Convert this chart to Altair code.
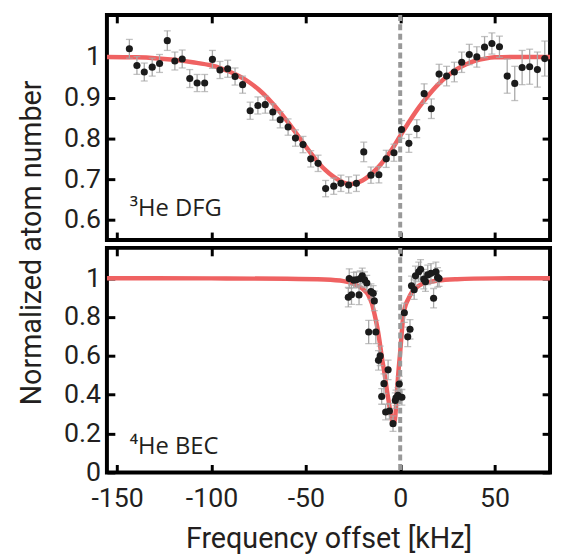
import altair as alt
import pandas as pd

# ---------------- data ----------------
x_ticks = [-150, -100, -50, 0, 50]
x_domain = [-155.4, 79.4]
resonance = [0]

# 3He degenerate Fermi gas (top panel)
dfg_freq = [-143.5, -139.5, -135.6, -131.4, -127.5, -123.4, -119.4, -115.5, -111.5, -107.6,
            -103.6, -99.5, -95.5, -91.4, -87.5, -83.5, -79.5, -75.4, -71.5, -67.5,
            -63.6, -59.4, -55.5, -51.5, -47.4, -43.5, -39.5, -35.2, -31.4, -27.3,
            -23.2, -19.3, -15.5, -11.3, -7.4, -3.3, 0.7, 4.6, 8.8, 12.7,
            16.5, 20.6, 24.6, 28.7, 32.6, 36.6, 40.6, 44.7, 48.6, 52.6,
            56.7, 60.7, 64.6, 68.6, 72.7, 76.6]
dfg_value = [1.020, 0.979, 0.963, 0.975, 0.984, 1.040, 0.990, 0.995, 0.947, 0.936,
             0.936, 0.994, 0.968, 0.971, 0.952, 0.932, 0.868, 0.881, 0.883, 0.865,
             0.846, 0.828, 0.801, 0.785, 0.750, 0.739, 0.677, 0.683, 0.690, 0.686,
             0.690, 0.767, 0.710, 0.711, 0.750, 0.765, 0.822, 0.788, 0.824, 0.910,
             0.873, 0.958, 0.953, 0.963, 0.987, 1.006, 1.000, 1.024, 1.033, 1.025,
             0.953, 0.935, 0.974, 0.976, 0.969, 0.996]
dfg_err = [0.023, 0.022, 0.022, 0.022, 0.022, 0.024, 0.022, 0.022, 0.022, 0.021,
           0.021, 0.022, 0.021, 0.021, 0.021, 0.021, 0.021, 0.021, 0.021, 0.020,
           0.020, 0.020, 0.020, 0.020, 0.020, 0.020, 0.020, 0.020, 0.020, 0.020,
           0.020, 0.024, 0.020, 0.020, 0.021, 0.021, 0.022, 0.022, 0.022, 0.024,
           0.024, 0.024, 0.024, 0.024, 0.025, 0.025, 0.025, 0.026, 0.026, 0.026,
           0.042, 0.042, 0.042, 0.043, 0.043, 0.043]
dfg_fit_freq = [-155.4, -140, -130, -120, -110, -100, -95, -90, -85, -80,
                -75, -70, -65, -60, -55, -50, -45, -40, -35, -30,
                -27, -24, -20, -15, -10, -5, 0, 5, 10, 15,
                20, 25, 30, 35, 40, 45, 50, 60, 79.4]
dfg_fit_value = [1.000, 0.999, 0.997, 0.993, 0.987, 0.979, 0.972, 0.963, 0.952, 0.938,
                 0.920, 0.898, 0.872, 0.843, 0.812, 0.780, 0.750, 0.724, 0.705, 0.692,
                 0.688, 0.690, 0.697, 0.714, 0.738, 0.769, 0.806, 0.843, 0.877, 0.906,
                 0.932, 0.953, 0.970, 0.982, 0.991, 0.996, 0.999, 1.000, 1.000]
dfg_y_ticks = [0.6, 0.7, 0.8, 0.9, 1.0]
dfg_y_domain = [0.551, 1.103]

# 4He Bose-Einstein condensate (bottom panel)
bec_freq = [-27.5, -27.0, -25.8, -24.6, -23.2, -21.8, -21.2, -20.1, -18.9, -17.7,
            -16.7, -15.5, -14.3, -13.7, -12.9, -11.5, -10.6, -9.8, -8.6, -7.7,
            -6.4, -5.7, -3.8, -2.6, -2.2, -1.2, -0.5, 0.9, 2.2, 4.0,
            5.2, 6.0, 7.4, 8.1, 9.8, 10.8, 12.5, 13.4, 14.6, 16.3,
            17.7, 18.9, 19.8, 20.6]
bec_value = [0.902, 0.998, 0.915, 0.990, 0.992, 0.914, 0.998, 1.012, 0.992, 0.975,
             0.723, 0.931, 0.922, 0.883, 0.723, 0.577, 0.600, 0.391, 0.457, 0.311,
             0.528, 0.316, 0.251, 0.370, 0.384, 0.397, 0.455, 0.387, 0.822, 0.698,
             0.737, 0.961, 0.941, 1.012, 1.033, 1.046, 0.995, 0.982, 1.017, 1.025,
             0.897, 1.033, 1.004, 0.998]
bec_err = [0.05, 0.05, 0.05, 0.04, 0.04, 0.05, 0.04, 0.04, 0.04, 0.04,
           0.06, 0.04, 0.04, 0.05, 0.06, 0.05, 0.05, 0.04, 0.05, 0.04,
           0.05, 0.04, 0.04, 0.04, 0.04, 0.04, 0.04, 0.04, 0.05, 0.05,
           0.05, 0.05, 0.05, 0.05, 0.05, 0.05, 0.05, 0.05, 0.05, 0.05,
           0.05, 0.05, 0.05, 0.04]
bec_fit_freq = [-155.4, -100, -60, -40, -30, -25, -20, -17, -15, -13.5,
                -12, -11, -10, -9, -8, -7, -6, -5, -4.3, -3.5,
                -2.8, -2.2, -1.7, -1, 0, 1, 1.7, 3, 4.3, 6,
                7.7, 10, 14.6, 20, 30, 50, 79.4]
bec_fit_value = [1.000, 0.999, 0.997, 0.993, 0.985, 0.972, 0.946, 0.915, 0.870, 0.810,
                 0.740, 0.680, 0.610, 0.550, 0.490, 0.420, 0.360, 0.300, 0.265, 0.250,
                 0.270, 0.340, 0.418, 0.510, 0.620, 0.740, 0.810, 0.865, 0.893, 0.925,
                 0.944, 0.962, 0.978, 0.988, 0.995, 0.999, 1.000]
bec_y_ticks = [0, 0.2, 0.4, 0.6, 0.8, 1.0]
bec_y_domain = [0, 1.156]

panel_labels = ["\u00b3He DFG", "\u2074He BEC"]
label_freq = [-143.3, -143.3]
label_value = [0.610, 0.097]

# ---------------- styling ----------------
TXT = "#231f20"
FIT = "#EF6262"
ERR = "#a8a8a8"
W = 448

tick_kw = dict(offset=-8, tickSize=8, tickWidth=3, tickColor="black",
               domain=False, grid=False, minExtent=0)


def panel(freq, value, err, fit_freq, fit_value, y_domain, y_ticks,
          label, lab_x, lab_y, height, bottom):
    pts = pd.DataFrame({"f": freq, "v": value, "e": err})
    fit = pd.DataFrame({"f": fit_freq, "v": fit_value})
    lab = pd.DataFrame({"f": [lab_x], "v": [lab_y], "t": [label]})
    vl = pd.DataFrame({"f": resonance})

    xs = alt.Scale(domain=x_domain, nice=False, zero=False)
    ys = alt.Scale(domain=y_domain, nice=False, zero=False)

    if bottom:
        x_bottom = alt.Axis(orient="bottom", values=x_ticks, labels=True,
                            labelExpr="datum.value < 0 ? '-' + abs(datum.value) : '' + datum.value",
                            labelBaseline="alphabetic", labelPadding=34,
                            title="Frequency offset [kHz]", titleBaseline="alphabetic",
                            titleY=84, **tick_kw)
        y_left = alt.Axis(orient="left", values=y_ticks, format="~g",
                          labelPadding=6.5, title=None, **tick_kw)
    else:
        x_bottom = alt.Axis(orient="bottom", values=x_ticks, labels=False,
                            title=None, **tick_kw)
        y_left = alt.Axis(orient="left", values=y_ticks, format="~g",
                          labelPadding=6.5, title="Normalized atom number",
                          titleX=-75.5, titleY=230, titleAngle=-90,
                          titleAlign="center", titleBaseline="alphabetic",
                          **tick_kw)
    x_top = alt.Axis(orient="top", values=x_ticks, labels=False, title=None, **tick_kw)
    y_right = alt.Axis(orient="right", values=y_ticks, labels=False, title=None, **tick_kw)

    fit_line = alt.Chart(fit).mark_line(color=FIT, strokeWidth=4.5,
                                        interpolate="monotone", clip=True).encode(
        x=alt.X("f:Q", scale=xs, axis=None),
        y=alt.Y("v:Q", scale=ys, axis=None))

    vline = alt.Chart(vl).mark_rule(color="#999999", strokeWidth=4,
                                    strokeDash=[6, 3.5]).encode(
        x=alt.X("f:Q", scale=xs, axis=None))

    base = alt.Chart(pts).transform_calculate(
        lo="datum.v - datum.e", hi="datum.v + datum.e")

    bars = base.mark_rule(color=ERR, strokeWidth=1.3, clip=True).encode(
        x=alt.X("f:Q", scale=xs, axis=x_bottom),
        y=alt.Y("lo:Q", scale=ys, axis=y_left),
        y2="hi:Q")
    cap_lo = base.mark_tick(color=ERR, thickness=1.3, size=7,
                            orient="horizontal", clip=True).encode(
        x=alt.X("f:Q", scale=xs, axis=None),
        y=alt.Y("lo:Q", scale=ys, axis=None))
    cap_hi = base.mark_tick(color=ERR, thickness=1.3, size=7,
                            orient="horizontal", clip=True).encode(
        x=alt.X("f:Q", scale=xs, axis=None),
        y=alt.Y("hi:Q", scale=ys, axis=None))

    dots = alt.Chart(pts).mark_circle(size=52, color="#1b1b1b", opacity=1,
                                      clip=True).encode(
        x=alt.X("f:Q", scale=xs, axis=x_top),
        y=alt.Y("v:Q", scale=ys, axis=y_right))

    text = alt.Chart(lab).mark_text(align="left", baseline="alphabetic",
                                    font="Open Sans", fontSize=24,
                                    color=TXT).encode(
        x=alt.X("f:Q", scale=xs, axis=None),
        y=alt.Y("v:Q", scale=ys, axis=None),
        text="t:N")

    return alt.layer(fit_line, vline, bars, cap_lo, cap_hi, dots, text).resolve_axis(
        x="independent", y="independent").properties(width=W, height=height)


top = panel(dfg_freq, dfg_value, dfg_err, dfg_fit_freq, dfg_fit_value,
            dfg_y_domain, dfg_y_ticks, panel_labels[0], label_freq[0],
            label_value[0], 227.5, False)
bottom = panel(bec_freq, bec_value, bec_err, bec_fit_freq, bec_fit_value,
               bec_y_domain, bec_y_ticks, panel_labels[1], label_freq[1],
               label_value[1], 227, True)

chart = alt.vconcat(top, bottom, spacing=7.5, bounds="flush").properties(
    padding={"left": 7, "top": 0, "right": 0, "bottom": 0}
).configure_view(
    stroke="black", strokeWidth=4
).configure_axis(
    labelFont="Roboto", labelFontSize=27, labelColor=TXT,
    titleFont="Roboto", titleFontSize=29, titleColor=TXT, titleFontWeight="normal"
)

chart.save("out.html", embed_options={"renderer": "svg", "actions": False})
